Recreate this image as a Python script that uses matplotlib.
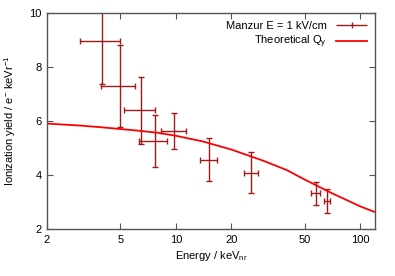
import matplotlib
matplotlib.use('Agg')
import matplotlib.pyplot as plt
from matplotlib.legend_handler import HandlerErrorbar
from matplotlib.container import ErrorbarContainer
import numpy as np

plt.rcParams['font.family'] = ['Liberation Sans', 'DejaVu Sans']
plt.rcParams['mathtext.fontset'] = 'custom'
plt.rcParams['mathtext.rm'] = 'Liberation Sans'
plt.rcParams['mathtext.it'] = 'Liberation Sans'

# Manzur data (E = 1 kV/cm)
energy = [3.98, 4.96, 6.44, 7.66, 9.79, 15.1, 25.5, 57.3, 65.8]
energy_lo = [3.01, 3.93, 5.21, 6.28, 8.3, 13.5, 23.5, 54.3, 63.4]
energy_hi = [4.96, 5.97, 7.73, 8.94, 11.3, 16.8, 27.9, 60.5, 68.8]
qy = [8.95, 7.29, 6.41, 5.26, 5.64, 4.58, 4.09, 3.33, 3.05]
qy_err = [1.58, 1.52, 1.24, 0.96, 0.67, 0.81, 0.76, 0.42, 0.45]

# theoretical Qy curve
theo_e = [2, 3, 4, 6, 8, 10, 14, 20, 30, 40, 50, 70, 100, 120]
theo_qy = [5.91, 5.84, 5.77, 5.66, 5.57, 5.46, 5.25, 4.95, 4.53, 4.19, 3.84, 3.34, 2.85, 2.64]

xticks = [2, 5, 10, 20, 50, 100]
yticks = [2, 4, 6, 8, 10]

fig = plt.figure(figsize=(3.95, 2.76), dpi=100)
ax = fig.add_axes([0.119, 0.169, 0.830, 0.784])

ecol = '#a01a1a'
e = np.array(energy)
xerr = [e - np.array(energy_lo), np.array(energy_hi) - e]
ax.errorbar(energy, qy, xerr=xerr, yerr=qy_err, fmt='none', ecolor=ecol,
            elinewidth=1.0, capsize=2.5, capthick=1.0)
line, = ax.plot(theo_e, theo_qy, color='#ff0000', lw=1.3, label='Theoretical Q$_y$')

# legend proxy: horizontal bar with a small centre tick, like the gnuplot key
proxy = ax.errorbar([], [], xerr=[], fmt='|', ms=4, mew=1.0, color=ecol,
                    ecolor=ecol, elinewidth=1.0, capsize=2.5, capthick=1.0)

ax.set_xscale('log')
ax.set_xlim(2, 120)
ax.set_ylim(2, 10)
ax.set_xticks(xticks)
ax.set_xticklabels([str(t) for t in xticks])
ax.xaxis.set_minor_locator(matplotlib.ticker.NullLocator())
ax.set_yticks(yticks)
ax.tick_params(direction='in', top=True, right=True, labelsize=8, length=4,
               color='#555555', pad=4)
for s in ax.spines.values():
    s.set_color('#555555')
    s.set_linewidth(1.0)

ax.set_xlabel('Energy / keV$_{nr}$', fontsize=8, labelpad=3)
ax.set_ylabel('Ionization yield / e$^{-}$ keVr$^{-1}$', fontsize=8, labelpad=8)

ax.legend([proxy, line], ['Manzur E = 1 kV/cm', 'Theoretical Q$_y$'],
          loc='upper right', fontsize=8, frameon=False, markerfirst=False,
          handlelength=2.8, borderaxespad=0.3, labelspacing=0.3,
          handler_map={ErrorbarContainer: HandlerErrorbar(xerr_size=1.4)})

fig.savefig('out.png', dpi=100)
